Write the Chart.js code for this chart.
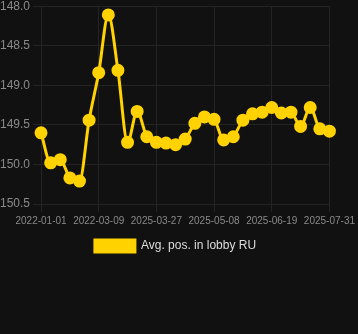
<!DOCTYPE html>
<html>
<head>
<meta charset="utf-8">
<script src="https://cdn.jsdelivr.net/npm/chart.js@4/dist/chart.umd.min.js"></script>
<style>
  html, body { margin: 0; padding: 0; background: #111111; overflow: hidden; }
  #wrap { position: relative; left: -3px; top: -4px; width: 361px; height: 266px; }
</style>
</head>
<body>
<div id="wrap"><canvas id="lobbyChart"></canvas></div>
<script>
// Données
const dates = [
  '2022-01-01', '2022-01-12', '2022-01-23', '2022-02-03', '2022-02-14', '2022-02-25',
  '2022-03-09', '2025-02-20', '2025-02-27', '2025-03-06', '2025-03-13', '2025-03-20',
  '2025-03-27', '2025-04-03', '2025-04-10', '2025-04-17', '2025-04-24', '2025-05-01',
  '2025-05-08', '2025-05-15', '2025-05-22', '2025-05-29', '2025-06-05', '2025-06-12',
  '2025-06-19', '2025-06-26', '2025-07-03', '2025-07-10', '2025-07-17', '2025-07-24',
  '2025-07-31'
];
const avgPos = [
  149.60, 149.98, 149.94, 150.17, 150.21, 149.44,
  148.84, 148.11, 148.81, 149.72, 149.33, 149.65,
  149.72, 149.73, 149.75, 149.68, 149.48, 149.40,
  149.43, 149.69, 149.65, 149.44, 149.36, 149.34,
  149.28, 149.35, 149.34, 149.52, 149.28, 149.55,
  149.58
];
const yTicks = [148.0, 148.5, 149.0, 149.5, 150.0, 150.5];

const ctx = document.getElementById('lobbyChart');
new Chart(ctx, {
  type: 'line',
  data: {
    labels: dates,
    datasets: [{
      label: 'Avg. pos. in lobby RU',
      data: avgPos,
      borderColor: '#ffd200',
      backgroundColor: '#ffd200',
      borderWidth: 3,
      pointRadius: 5,
      pointHoverRadius: 6,
      tension: 0.4,
      cubicInterpolationMode: 'monotone',
    }],
  },
  options: {
    responsive: true,
    maintainAspectRatio: false,
    animation: false,
    layout: { padding: { left: 0, right: 4, top: 0, bottom: 0 } },
    plugins: {
      legend: {
        position: 'bottom',
        labels: { color: '#dddddd', font: { size: 12 }, boxWidth: 40, boxHeight: 12 },
      },
      tooltip: { enabled: false },
    },
    scales: {
      y: {
        reverse: true,
        min: 148.0,
        max: 150.5,
        afterBuildTicks: axis => { axis.ticks = yTicks.map(v => ({ value: v })); },
        ticks: {
          color: '#8a8a8a',
          font: { size: 12 },
          callback: v => Number(v).toFixed(1),
        },
        grid: { color: '#242424' },
        border: { display: false },
      },
      x: {
        ticks: {
          color: '#8a8a8a',
          font: { size: 10 },
          maxRotation: 0,
          autoSkip: false,
          callback: function (v, i) { return i % 6 === 0 ? this.getLabelForValue(v) : ''; },
        },
        grid: {
          color: (c) => (c.index % 6 === 0 ? '#242424' : 'transparent'),
        },
        border: { display: false },
      },
    },
  },
});
</script>
</body>
</html>
